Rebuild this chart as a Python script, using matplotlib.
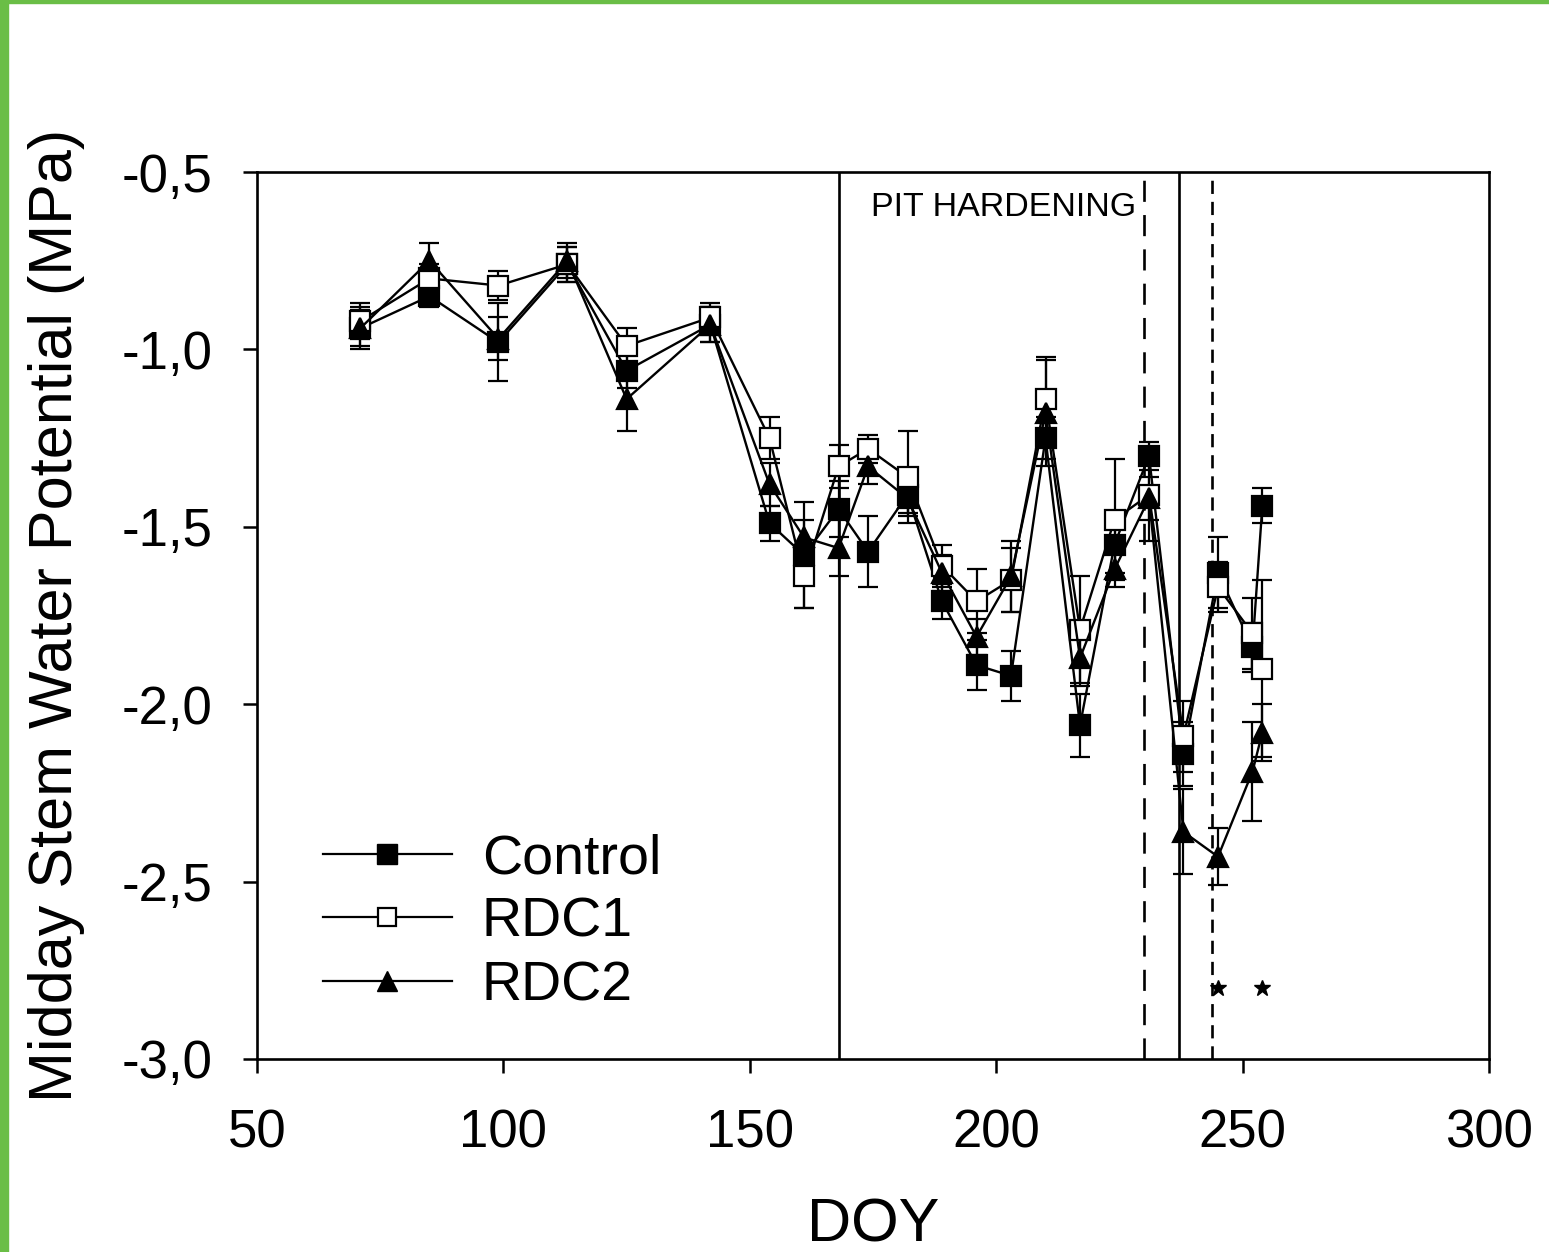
import numpy as np
import matplotlib.pyplot as plt
from matplotlib.patches import Rectangle
from matplotlib.lines import Line2D

plt.rcParams['font.family'] = ['Liberation Sans', 'DejaVu Sans']

# DOY of sampling
doy = [71, 85, 99, 113, 125, 142, 154, 161, 168, 174, 182,
       189, 196, 203, 210, 217, 224, 231, 238, 245, 252, 254]

# midday stem water potential (MPa)
control = [-0.94, -0.85, -0.98, -0.76, -1.06, -0.93, -1.49, -1.58, -1.45, -1.57, -1.41,
           -1.71, -1.89, -1.92, -1.25, -2.06, -1.55, -1.30, -2.14, -1.63, -1.84, -1.44]
rdc1 = [-0.92, -0.80, -0.82, -0.76, -0.99, -0.91, -1.25, -1.64, -1.33, -1.28, -1.36,
        -1.61, -1.71, -1.65, -1.14, -1.79, -1.48, -1.41, -2.09, -1.67, -1.80, -1.90]
rdc2 = [-0.94, -0.75, -0.97, -0.75, -1.14, -0.93, -1.38, -1.53, -1.56, -1.33, -1.42,
        -1.63, -1.81, -1.64, -1.18, -1.87, -1.62, -1.42, -2.36, -2.43, -2.19, -2.08]

# standard errors
err_c = [0.05, 0.03, 0.11, 0.05, 0.05, 0.05, 0.05, 0.15, 0.08, 0.10, 0.05,
         0.05, 0.07, 0.07, 0.06, 0.09, 0.08, 0.04, 0.09, 0.10, 0.07, 0.05]
err_r1 = [0.05, 0.04, 0.04, 0.05, 0.05, 0.04, 0.06, 0.09, 0.06, 0.04, 0.13,
          0.06, 0.09, 0.09, 0.12, 0.15, 0.17, 0.13, 0.10, 0.07, 0.10, 0.25]
err_r2 = [0.06, 0.05, 0.06, 0.05, 0.09, 0.05, 0.06, 0.05, 0.08, 0.05, 0.05,
          0.05, 0.05, 0.10, 0.15, 0.08, 0.05, 0.06, 0.12, 0.08, 0.14, 0.08]

# phenology markers
pit_start = 168
pit_end = 230
line_solid2 = 237
line_dash2 = 243.8
star_doy = [245, 254]
star_y = -2.8

fig = plt.figure(figsize=(15.49, 12.52), dpi=100)
ax = fig.add_axes([0.1659, 0.1542, 0.7954, 0.7084])

# green frame of the screenshot
fig.patches.append(Rectangle((0, 0), 8 / 1549, 1, transform=fig.transFigure,
                             color='#6abe46', zorder=10))
fig.patches.append(Rectangle((0, 1 - 3 / 1252), 1, 3 / 1252, transform=fig.transFigure,
                             color='#6abe46', zorder=10))

common = dict(color='black', lw=1.7, ms=14.5, capsize=7, elinewidth=1.6,
              capthick=1.6, mew=1.6, mec='black')
ax.errorbar(doy, control, yerr=err_c, fmt='-s', mfc='black', **common)
ax.errorbar(doy, rdc1, yerr=err_r1, fmt='-s', mfc='white', **common)
ax.errorbar(doy, rdc2, yerr=err_r2, fmt='-^', mfc='black', **common)

ax.axvline(pit_start, color='black', lw=1.9)
ax.axvline(pit_end, color='black', lw=1.9, ls=(0, (8, 5)))
ax.axvline(line_solid2, color='black', lw=1.9)
ax.axvline(line_dash2, color='black', lw=1.9, ls=(0, (5, 3)))
ax.text(pit_end - 1.6, -0.6, 'PIT HARDENING', ha='right', va='center', fontsize=24.5)
ax.plot(star_doy, [star_y] * len(star_doy), ls='none', marker='*', color='black', ms=12)

ax.set_xlim(50, 300)
ax.set_ylim(-3.0, -0.5)
ax.set_xticks([50, 100, 150, 200, 250, 300])
ax.set_yticks([-3.0, -2.5, -2.0, -1.5, -1.0, -0.5])
ax.set_yticklabels(['-3,0', '-2,5', '-2,0', '-1,5', '-1,0', '-0,5'])
ax.tick_params(direction='out', length=10, width=1.8, labelsize=38)
ax.tick_params(axis='x', pad=26)
ax.tick_params(axis='y', pad=22)
for s in ax.spines.values():
    s.set_linewidth(1.9)

ax.set_xlabel('DOY', fontsize=44, labelpad=28)
ax.set_ylabel('Midday Stem Water Potential (MPa)', fontsize=44, labelpad=26)

handles = [Line2D([], [], color='black', lw=1.6, marker='s', ms=15, mfc='black', mec='black'),
           Line2D([], [], color='black', lw=1.6, marker='s', ms=13, mfc='white', mec='black', mew=1.6),
           Line2D([], [], color='black', lw=1.6, marker='^', ms=15, mfc='black', mec='black')]
ax.legend(handles, ['Control', 'RDC1', 'RDC2'], loc='upper left',
          bbox_to_anchor=(0.0536, 0.2545), frameon=False, fontsize=40,
          handlelength=2.32, handletextpad=0.54, labelspacing=0.21,
          borderaxespad=0, borderpad=0)

fig.savefig('out.png', dpi=100)
